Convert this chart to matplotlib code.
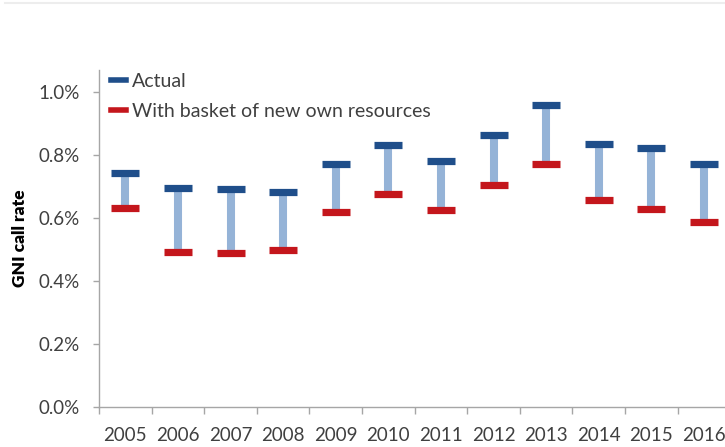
import matplotlib
matplotlib.use("Agg")
import matplotlib.pyplot as plt
from matplotlib.lines import Line2D
from matplotlib.ticker import FuncFormatter, FixedLocator

years = ["2005", "2006", "2007", "2008", "2009", "2010", "2011", "2012", "2013", "2014", "2015", "2016"]
actual = [0.745, 0.697, 0.693, 0.683, 0.773, 0.833, 0.783, 0.864, 0.959, 0.836, 0.823, 0.773]
basket = [0.632, 0.493, 0.490, 0.500, 0.621, 0.677, 0.627, 0.706, 0.773, 0.658, 0.630, 0.588]
series_names = ["Actual", "With basket of new own resources"]
yticks = [0.0, 0.2, 0.4, 0.6, 0.8, 1.0]

BLUE = "#1F4E8A"
RED = "#C4161C"
STEM = "#95B3D7"
TXT = "#404040"
AX = "#A6A6A6"

plt.rcParams["font.family"] = ["Lato", "DejaVu Sans"]

fig = plt.figure(figsize=(7.25, 4.47), dpi=100)
ax = fig.add_axes([99/725, 1-407.3/447, 1-99/725, (407.3-70)/447])

x = list(range(len(years)))
ax.vlines(x, basket, actual, color=STEM, linewidth=5.8, zorder=2)
ax.plot(x, actual, linestyle="none", marker="_", markersize=20, markeredgewidth=5.2,
        color=BLUE, zorder=3)
ax.plot(x, basket, linestyle="none", marker="_", markersize=20, markeredgewidth=5.2,
        color=RED, zorder=3)

ax.set_xlim(-0.5, -0.5 + 626/52.6)
ax.set_ylim(0, 1.0708)

ax.set_yticks(yticks)
ax.yaxis.set_major_formatter(FuncFormatter(lambda v, p: f"{v:.1f}%"))
ax.tick_params(axis="y", length=4, width=1, color=AX, pad=10, labelsize=13.5, labelcolor=TXT)

ax.set_xticks(x)
ax.set_xticklabels(years)
ax.xaxis.set_minor_locator(FixedLocator([i - 0.5 for i in range(len(years) + 1)]))
ax.tick_params(axis="x", which="major", length=0, pad=14, labelsize=13.5, labelcolor=TXT)
ax.tick_params(axis="x", which="minor", length=5, width=1, color=AX)

for s in ["top", "right"]:
    ax.spines[s].set_visible(False)
for s in ["left", "bottom"]:
    ax.spines[s].set_color(AX)
    ax.spines[s].set_linewidth(1)

ax.set_ylabel("GNI call rate", fontsize=12.5, fontweight="heavy", color="black")
ax.yaxis.set_label_coords(-71/626, 0.5)

handles = [Line2D([], [], color=BLUE, linewidth=4),
           Line2D([], [], color=RED, linewidth=4)]
ax.legend(handles, series_names, loc="upper left", bbox_to_anchor=(0.0, 1.026),
          frameon=False, fontsize=14, handlelength=0.8, handletextpad=0.3,
          labelspacing=0.65, borderaxespad=0.2, labelcolor=TXT)

fig.add_artist(Line2D([5/725, 1], [1-2.5/447, 1-2.5/447], color="#EDEDED", linewidth=1.5))

fig.savefig("out.png", dpi=100)
